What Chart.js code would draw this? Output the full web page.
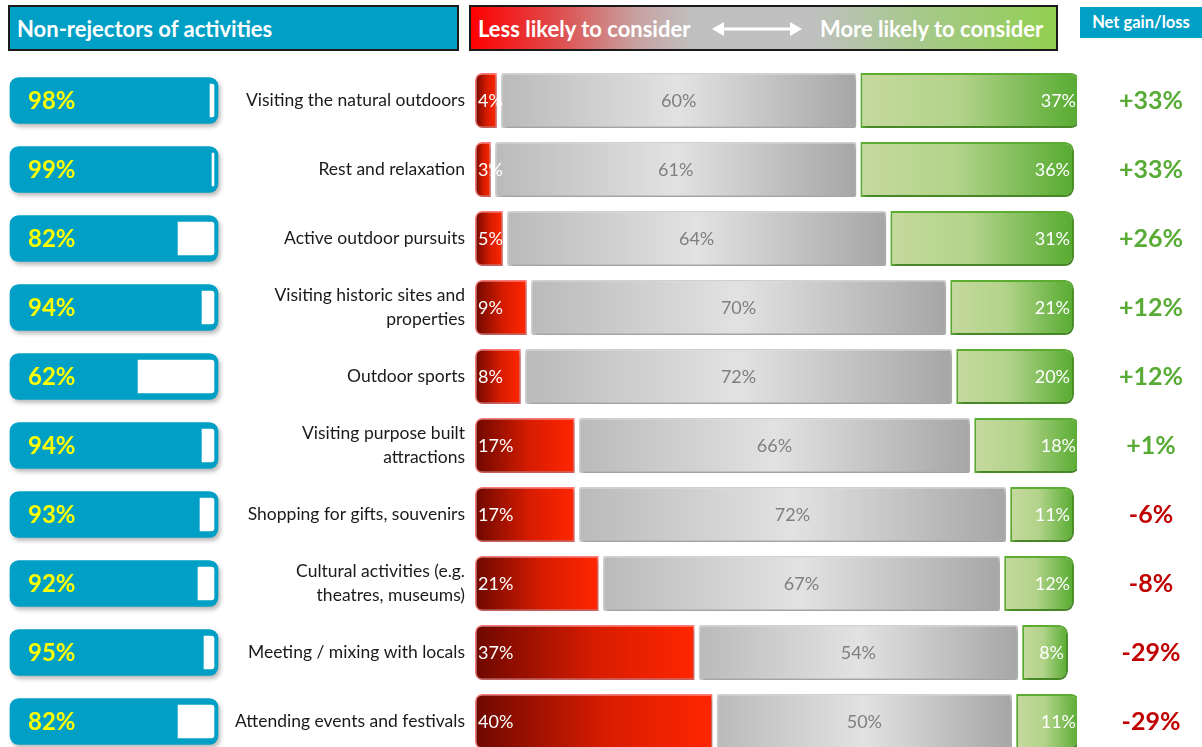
<!DOCTYPE html>
<html>
<head>
<meta charset="utf-8">
<script src="https://cdn.jsdelivr.net/npm/chart.js@4.4.0/dist/chart.umd.min.js"></script>
<style>
  body { margin: 0; width: 1202px; height: 747px; overflow: hidden; background: #fff; position: relative; font-family: Lato, sans-serif; }
  .hdr { position: absolute; box-sizing: border-box; color: #fff; font-weight: bold; }
  #h1 { left: 8px; top: 5px; width: 451px; height: 46px; background: #00a0c6; border: 2px solid #1a1a1a; font-size: 22px; padding: 8px 0 0 7px; }
  #h2 { left: 469px; top: 5px; width: 589px; height: 46px; border: 2px solid #1a1a1a;
        background: linear-gradient(to right, #ff0000 0%, #e04848 14%, #c8a0a0 28%, #c0c0c0 38%, #c0c0c0 58%, #a8c890 75%, #92d050 100%); font-size: 22px; }
  #h2 span { position: absolute; top: 8px; }
  #h3 { left: 1080px; top: 7px; width: 122px; height: 31px; background: #00a0c6; font-size: 16.5px; text-align: center; padding-top: 5px; }
  #left { position: absolute; left: 0; top: 66px; }
  #right { position: absolute; left: 230px; top: 66px; }
</style>
</head>
<body>
<div class="hdr" id="h1">Non-rejectors of activities</div>
<div class="hdr" id="h2">
  <span style="left:7px">Less likely to consider</span>
  <svg style="position:absolute;left:241px;top:12px" width="90" height="20">
    <line x1="8" y1="10" x2="82" y2="10" stroke="#fff" stroke-width="3"/>
    <polygon points="0,10 12,3 12,17" fill="#fff"/>
    <polygon points="90,10 78,3 78,17" fill="#fff"/>
  </svg>
  <span style="left:349px">More likely to consider</span>
</div>
<div class="hdr" id="h3">Net gain/loss</div>

<canvas id="left" width="230" height="690"></canvas>
<canvas id="right" width="1000" height="690"></canvas>

<script>
// Các hạng mục hoạt động
const categories = [
  "Visiting the natural outdoors",
  "Rest and relaxation",
  "Active outdoor pursuits",
  ["Visiting historic sites and", "properties"],
  "Outdoor sports",
  ["Visiting purpose built", "attractions"],
  "Shopping for gifts, souvenirs",
  ["Cultural activities (e.g.", "theatres, museums)"],
  "Meeting / mixing with locals",
  "Attending events and festivals"
];
const nonRejectors = [98, 99, 82, 94, 62, 94, 93, 92, 95, 82];
const lessLikely = [4, 3, 5, 9, 8, 17, 17, 21, 37, 40];
const neutral = [60, 61, 64, 70, 72, 66, 72, 67, 54, 50];
const moreLikely = [37, 36, 31, 21, 20, 18, 11, 12, 8, 11];
const netGain = [33, 33, 26, 12, 12, 1, -6, -8, -29, -29];

const FONT = "Lato, 'Open Sans', sans-serif";
const GAP = 0.35; // khoảng trắng giữa các đoạn

// Đổ bóng nhẹ cho các thanh
const shadow = {
  id: "shadow",
  beforeDatasetDraw(chart, args) {
    const ctx = chart.ctx;
    ctx.save();
    if (chart.data.datasets[args.index].shadow) {
      ctx.shadowColor = "rgba(0,0,0,0.28)";
      ctx.shadowBlur = 4;
      ctx.shadowOffsetX = 2;
      ctx.shadowOffsetY = 3;
    }
  },
  afterDatasetDraw(chart) {
    chart.ctx.restore();
  }
};

function noPad(scale) {
  scale.paddingTop = 0;
  scale.paddingBottom = 0;
}

// ---- Biểu đồ trái: non-rejectors ----
// dataset đầu tiên được vẽ trên cùng
new Chart(document.getElementById("left"), {
  type: "bar",
  data: {
    labels: categories,
    datasets: [
      {
        data: nonRejectors.map(v => [v, 100]),
        backgroundColor: "#ffffff",
        barThickness: 33,
        borderRadius: { topRight: 3, bottomRight: 3 },
        borderSkipped: false,
        grouped: false,
        clip: false
      },
      {
        data: nonRejectors.map(() => [-2, 102]),
        backgroundColor: "#00a0c6",
        barThickness: 46,
        borderRadius: 9,
        borderSkipped: false,
        grouped: false,
        clip: false,
        shadow: true
      }
    ]
  },
  options: {
    indexAxis: "y",
    responsive: false,
    animation: false,
    events: [],
    layout: { padding: { left: 10, right: 12, top: 0, bottom: 0 } },
    plugins: { legend: { display: false }, tooltip: { enabled: false } },
    scales: {
      x: { display: false, min: -2, max: 102 },
      y: { display: false }
    }
  },
  plugins: [shadow, {
    id: "pctLabels",
    afterDatasetsDraw(chart) {
      const ctx = chart.ctx;
      ctx.save();
      ctx.font = "bold 24px " + FONT;
      ctx.fillStyle = "#ffff00";
      ctx.textBaseline = "middle";
      chart.getDatasetMeta(1).data.forEach((el, i) => {
        ctx.fillText(nonRejectors[i] + "%", el.base + 18, el.y + 1);
      });
      ctx.restore();
    }
  }]
});

// ---- Biểu đồ phải: less / neutral / more likely ----
function grad(stops) {
  return c => {
    const chart = c.chart;
    if (!chart.chartArea || !Array.isArray(c.raw)) return stops[0][1];
    const xs = chart.scales.x;
    const g = chart.ctx.createLinearGradient(xs.getPixelForValue(c.raw[0]), 0, xs.getPixelForValue(c.raw[1]), 0);
    stops.forEach(s => g.addColorStop(s[0], s[1]));
    return g;
  };
}

const redSpan = lessLikely.map(l => [0, l - GAP]);
const graySpan = lessLikely.map((l, i) => [l + GAP, l + neutral[i] - GAP]);
const greenSpan = lessLikely.map((l, i) => [l + neutral[i] + GAP, l + neutral[i] + moreLikely[i]]);

new Chart(document.getElementById("right"), {
  type: "bar",
  data: {
    labels: categories,
    datasets: [
      {
        data: redSpan, values: lessLikely,
        backgroundColor: grad([[0, "#6e0800"], [0.55, "#d81c00"], [1, "#ff2600"]]),
        borderColor: "#ff7a7a", borderWidth: 1.5,
        borderRadius: { topLeft: 7, bottomLeft: 7 },
        borderSkipped: false, grouped: false, shadow: true
      },
      {
        data: graySpan, values: neutral,
        backgroundColor: grad([[0, "#bababa"], [0.5, "#e2e2e2"], [1, "#a6a6a6"]]),
        borderColor: "#d2d2d2", borderWidth: 1.5,
        borderRadius: 2,
        borderSkipped: false, grouped: false, shadow: true
      },
      {
        data: greenSpan, values: moreLikely,
        backgroundColor: grad([[0, "#c6d99e"], [0.45, "#b2d38a"], [1, "#56ab30"]]),
        borderColor: "#5cae32", borderWidth: 2,
        borderRadius: { topRight: 9, bottomRight: 9 },
        borderSkipped: false, grouped: false, shadow: true
      }
    ]
  },
  options: {
    indexAxis: "y",
    responsive: false,
    animation: false,
    events: [],
    layout: { padding: 0 },
    datasets: { bar: { barPercentage: 0.8, categoryPercentage: 1 } },
    plugins: { legend: { display: false }, tooltip: { enabled: false } },
    scales: {
      x: { display: false, min: 0, max: 100.5 },
      y: {
        position: "left",
        grid: { display: false, drawTicks: false },
        border: { display: false },
        ticks: { color: "#1a1a1a", padding: 10, font: { family: FONT, size: 17.5, lineHeight: 1.4 } },
        afterFit(s) { s.width = 245; noPad(s); }
      },
      y2: {
        type: "category",
        position: "right",
        labels: netGain.map(v => (v > 0 ? "+" : "") + v + "%"),
        offset: true,
        grid: { display: false, drawTicks: false },
        border: { display: false },
        ticks: {
          crossAlign: "center",
          padding: 42,
          color: c => netGain[c.index] >= 0 ? "#58ac36" : "#c00000",
          font: { family: FONT, size: 25, weight: "bold" }
        },
        afterFit(s) { s.width = 153; noPad(s); }
      }
    }
  },
  plugins: [shadow, {
    id: "segLabels",
    afterDatasetsDraw(chart) {
      const ctx = chart.ctx;
      ctx.save();
      ctx.font = "18px " + FONT;
      ctx.textBaseline = "middle";
      chart.data.datasets.forEach((ds, di) => {
        chart.getDatasetMeta(di).data.forEach((el, i) => {
          const t = ds.values[i] + "%";
          if (di === 0) { ctx.textAlign = "left"; ctx.fillStyle = "#fff"; ctx.fillText(t, el.base + 3, el.y + 1); }
          if (di === 1) { ctx.textAlign = "center"; ctx.fillStyle = "#7f7f7f"; ctx.fillText(t, (el.base + el.x) / 2, el.y + 1); }
          if (di === 2) { ctx.textAlign = "right"; ctx.fillStyle = "#fff"; ctx.fillText(t, el.x - 4, el.y + 1); }
        });
      });
      ctx.restore();
    }
  }]
});
</script>
</body>
</html>
